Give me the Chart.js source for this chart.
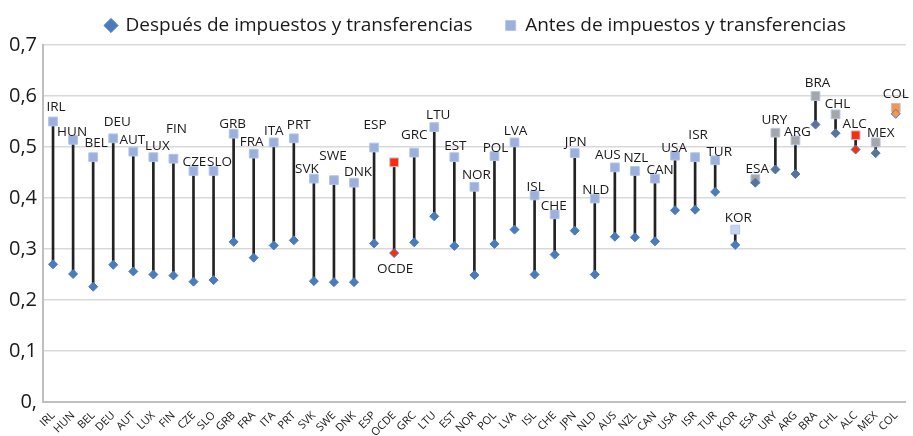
<!DOCTYPE html>
<html>
<head>
<meta charset="utf-8">
<script src="https://cdn.jsdelivr.net/npm/chart.js@4.4.0/dist/chart.umd.min.js"></script>
<style>
  html, body { margin: 0; padding: 0; background: #fff; }
</style>
</head>
<body>
<canvas id="giniChart" width="913" height="436"></canvas>
<script>
// Gini: antes y después de impuestos y transferencias

const countries = ['IRL', 'HUN', 'BEL', 'DEU', 'AUT', 'LUX', 'FIN', 'CZE', 'SLO', 'GRB', 'FRA', 'ITA', 'PRT',
  'SVK', 'SWE', 'DNK', 'ESP', 'OCDE', 'GRC', 'LTU', 'EST', 'NOR', 'POL', 'LVA', 'ISL', 'CHE', 'JPN', 'NLD',
  'AUS', 'NZL', 'CAN', 'USA', 'ISR', 'TUR', 'KOR', 'ESA', 'URY', 'ARG', 'BRA', 'CHL', 'ALC', 'MEX', 'COL'];

const antes = [0.550, 0.514, 0.480, 0.517, 0.491, 0.480, 0.477, 0.453, 0.453, 0.526, 0.487, 0.509, 0.517,
  0.438, 0.435, 0.430, 0.499, 0.470, 0.489, 0.539, 0.480, 0.422, 0.482, 0.509, 0.405, 0.368, 0.488, 0.399,
  0.460, 0.453, 0.438, 0.483, 0.480, 0.474, 0.338, 0.437, 0.528, 0.513, 0.600, 0.564, 0.523, 0.509, 0.577];

const despues = [0.270, 0.251, 0.226, 0.269, 0.256, 0.250, 0.248, 0.236, 0.239, 0.314, 0.283, 0.307, 0.317,
  0.237, 0.235, 0.235, 0.311, 0.292, 0.313, 0.364, 0.306, 0.249, 0.310, 0.338, 0.250, 0.289, 0.336, 0.250,
  0.324, 0.323, 0.315, 0.376, 0.377, 0.412, 0.308, 0.430, 0.456, 0.447, 0.544, 0.527, 0.495, 0.488, 0.565];

const yMin = 0;
const yMax = 0.7;
const yStep = 0.1;

// colours
const AFTER_BLUE = '#4a7bbd';
const BEFORE_BLUE = '#9bb0dc';
const BEFORE_EDGE = '#b3c5e8';
const RED = '#ff2b0a';
const GREY = '#a6a6a6';
const GREY_BLUE = '#5d7396';
const ORANGE = '#f79646';

const beforeFill = { OCDE: RED, ALC: RED, KOR: '#c7d6ef', COL: ORANGE,
  ESA: GREY, URY: GREY, ARG: GREY, BRA: GREY, CHL: GREY, MEX: GREY };
const afterFill = { OCDE: RED, ALC: RED, COL: ORANGE,
  ESA: GREY_BLUE, URY: GREY_BLUE, ARG: GREY_BLUE, BRA: GREY_BLUE, CHL: GREY_BLUE, MEX: GREY_BLUE };

// label nudges (px) from the marker
const labelNudge = [[3,-16],[-1,-10],[3,-16],[4,-18],[-1,-13],[4,-13],[3,-32],[1,-11],[6,-11],[-1,-12],[-2,-13],[0,-13],[5,-15],
  [-7,-11],[-1,-26],[4,-13],[1,-24],[1,14],[0,-19],[4,-14],[1,-13],[2,-14],[1,-10],[1,-13],[1,-10],[-1,-10],[1,-13],[1,-10],
  [-7,-14],[1,-15],[5,-10],[-1,-10],[3,-24],[4,-10],[3,-13],[2,-12],[-1,-15],[2,-10],[2,-15],[2,-12],[-1,-13],[5,-11],[0,-16]];
const labelBelow = ['OCDE'];

const FONT = '"Open Sans", "DejaVu Sans", sans-serif';

const countryLabels = {
  id: 'countryLabels',
  afterLayout(chart) {
    // legend sits a little right of centre in the original
    chart.legend.left += 20;
    chart.legend.right += 20;
  },
  afterDatasetsDraw(chart) {
    const ctx = chart.ctx;
    const afterPts = chart.getDatasetMeta(0).data;
    const beforePts = chart.getDatasetMeta(1).data;
    ctx.save();
    ctx.font = '13.5px ' + FONT;
    ctx.fillStyle = '#1a1a1a';
    ctx.textAlign = 'center';
    ctx.textBaseline = 'middle';
    countries.forEach((c, i) => {
      const p = labelBelow.includes(c) ? afterPts[i] : beforePts[i];
      ctx.fillText(c, p.x + labelNudge[i][0], p.y + labelNudge[i][1] + 2);
    });
    ctx.restore();
  }
};

const ctx = document.getElementById('giniChart');
new Chart(ctx, {
  data: {
    labels: countries,
    datasets: [
      {
        type: 'line',
        label: 'Después de impuestos y transferencias',
        data: despues,
        showLine: false,
        pointStyle: 'rectRot',
        pointRadius: 4.5,
        pointBorderWidth: 1,
        pointBackgroundColor: countries.map(c => afterFill[c] || AFTER_BLUE),
        pointBorderColor: AFTER_BLUE,
        backgroundColor: AFTER_BLUE,
        borderColor: AFTER_BLUE,
        order: 1
      },
      {
        type: 'line',
        label: 'Antes de impuestos y transferencias',
        data: antes,
        showLine: false,
        pointStyle: 'rect',
        pointRadius: 6.2,
        pointBorderWidth: 1,
        pointBackgroundColor: countries.map(c => beforeFill[c] || BEFORE_BLUE),
        pointBorderColor: BEFORE_EDGE,
        backgroundColor: BEFORE_BLUE,
        borderColor: BEFORE_BLUE,
        order: 2
      },
      {
        type: 'bar',
        label: 'rango',
        data: countries.map((c, i) => [despues[i], antes[i]]),
        backgroundColor: '#222222',
        barThickness: 2,
        grouped: false,
        order: 3
      }
    ]
  },
  options: {
    responsive: false,
    animation: false,
    devicePixelRatio: 1,
    layout: { padding: { top: 2, right: 5, left: 4, bottom: 0 } },
    plugins: {
      tooltip: { enabled: false },
      legend: {
        position: 'top',
        labels: {
          filter: item => item.datasetIndex !== 2,
          generateLabels: chart => {
            const items = Chart.defaults.plugins.legend.labels.generateLabels(chart);
            if (items.length) items[0].text += '\u2002\u2002';
            return items;
          },
          usePointStyle: true,
          boxWidth: 10,
          boxHeight: 10,
          padding: 14,
          color: '#1a1a1a',
          font: { family: FONT, size: 19 }
        }
      }
    },
    scales: {
      x: {
        offset: true,
        grid: { display: false },
        border: { display: true, color: '#bfbfbf', width: 2 },
        ticks: {
          autoSkip: false,
          maxRotation: 45,
          minRotation: 45,
          padding: -1,
          color: '#1a1a1a',
          font: { family: FONT, size: 11 }
        },
        afterFit: scale => { scale.height = 34; }
      },
      y: {
        min: yMin,
        max: yMax,
        grid: { color: '#d9d9d9', lineWidth: 1.5, drawTicks: false },
        border: { display: true, color: '#bfbfbf', width: 2 },
        ticks: {
          stepSize: yStep,
          padding: 6,
          color: '#1a1a1a',
          font: { family: FONT, size: 20 },
          callback: v => v === 0 ? '0,' : v.toFixed(1).replace('.', ',')
        },
        afterFit: scale => { scale.width = 39; }
      }
    }
  },
  plugins: [countryLabels]
});
</script>
</body>
</html>
